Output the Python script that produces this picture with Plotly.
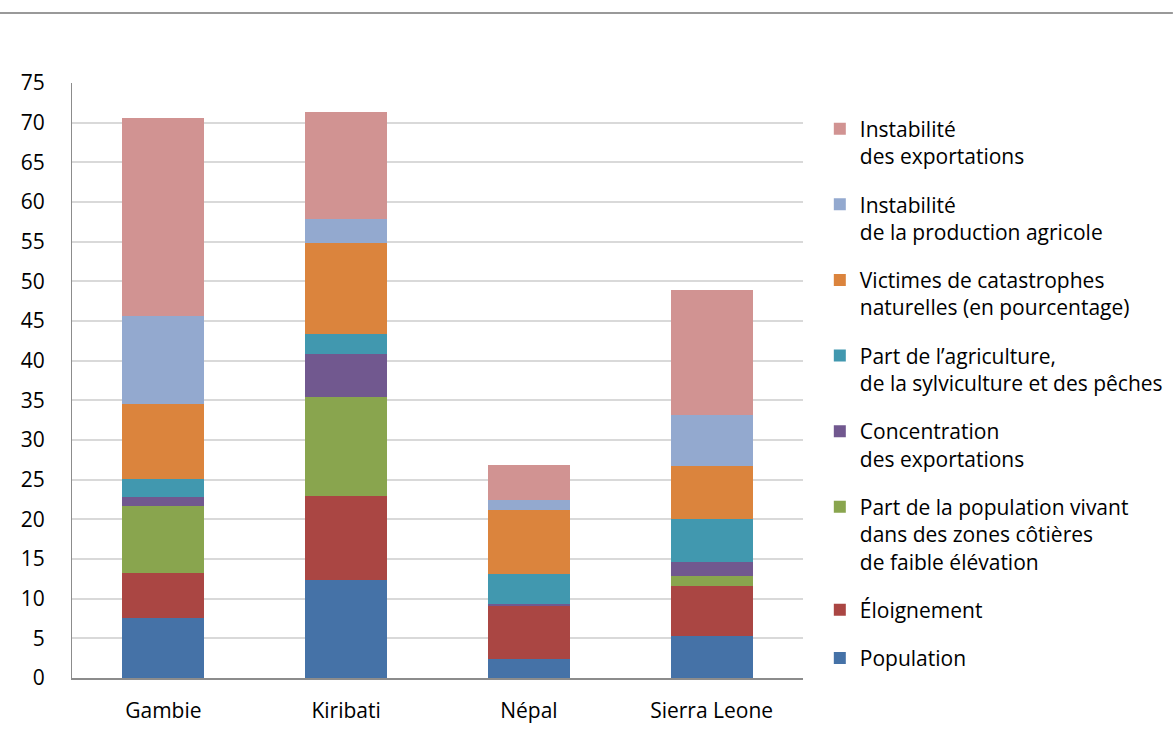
import plotly.graph_objects as go

# Countries on the x axis
countries = ["Gambie", "Kiribati", "Népal", "Sierra Leone"]

# Stacked components, bottom to top
population = [7.6, 12.4, 2.4, 5.3]
eloignement = [5.6, 10.5, 6.7, 6.3]
zones_cotieres = [8.5, 12.5, 0.0, 1.3]
concentration_exports = [1.1, 5.4, 0.2, 1.7]
part_agriculture = [2.3, 2.6, 3.8, 5.5]
victimes_catastrophes = [9.5, 11.4, 8.1, 6.6]
instab_agricole = [11.0, 3.1, 1.2, 6.5]
instab_exports = [25.0, 13.5, 4.5, 15.7]

y_ticks = [0, 5, 10, 15, 20, 25, 30, 35, 40, 45, 50, 55, 60, 65, 70, 75]

series = [
    ("Population", population, "#4572A7"),
    ("Éloignement", eloignement, "#AA4643"),
    ("Part de la population vivant<br>dans des zones côtières<br>de faible élévation", zones_cotieres, "#89A54E"),
    ("Concentration<br>des exportations", concentration_exports, "#71588F"),
    ("Part de l’agriculture,<br>de la sylviculture et des pêches", part_agriculture, "#4198AF"),
    ("Victimes de catastrophes<br>naturelles (en pourcentage)", victimes_catastrophes, "#DB843D"),
    ("Instabilité<br>de la production agricole", instab_agricole, "#93A9CF"),
    ("Instabilité<br>des exportations", instab_exports, "#D19392"),
]

FONT = "'Open Sans', Lato, sans-serif"

fig = go.Figure()
for i, (name, vals, color) in enumerate(series):
    fig.add_trace(go.Bar(
        x=countries, y=vals, name=name, legendgroup=f"g{i}",
        legendrank=100 - i,
        marker=dict(color=color, line=dict(width=0)),
    ))

fig.update_layout(
    width=1173, height=743,
    barmode="stack", bargap=0.55,
    paper_bgcolor="white", plot_bgcolor="white",
    margin=dict(l=72, r=370, t=83, b=65, autoexpand=False),
    font=dict(family=FONT, size=21, color="#000000"),
    showlegend=True,
    legend=dict(
        traceorder="grouped", tracegroupgap=18, valign="top",
        x=1.023, xanchor="left", y=0.957, yanchor="top",
        font=dict(family=FONT, size=21, color="#000000"),
        bgcolor="rgba(0,0,0,0)", itemwidth=30,
    ),
    xaxis=dict(
        showgrid=False, showline=True, linecolor="#8c8c8c", linewidth=2,
        ticks="", tickfont=dict(size=21), ticklabelstandoff=13,
    ),
    yaxis=dict(
        range=[0, 75], tickvals=y_ticks, showgrid=True,
        gridcolor="#d9d9d9", gridwidth=1.5,
        showline=True, linecolor="#8c8c8c", linewidth=1,
        ticks="", tickfont=dict(size=21), ticklabelstandoff=22,
        zeroline=False,
    ),
    shapes=[dict(
        type="line", xref="paper", yref="paper",
        x0=-0.0985, x1=1.506, y0=1.1176, y1=1.1176,
        line=dict(color="#999999", width=2),
    )],
)

fig.write_html("out.html")
